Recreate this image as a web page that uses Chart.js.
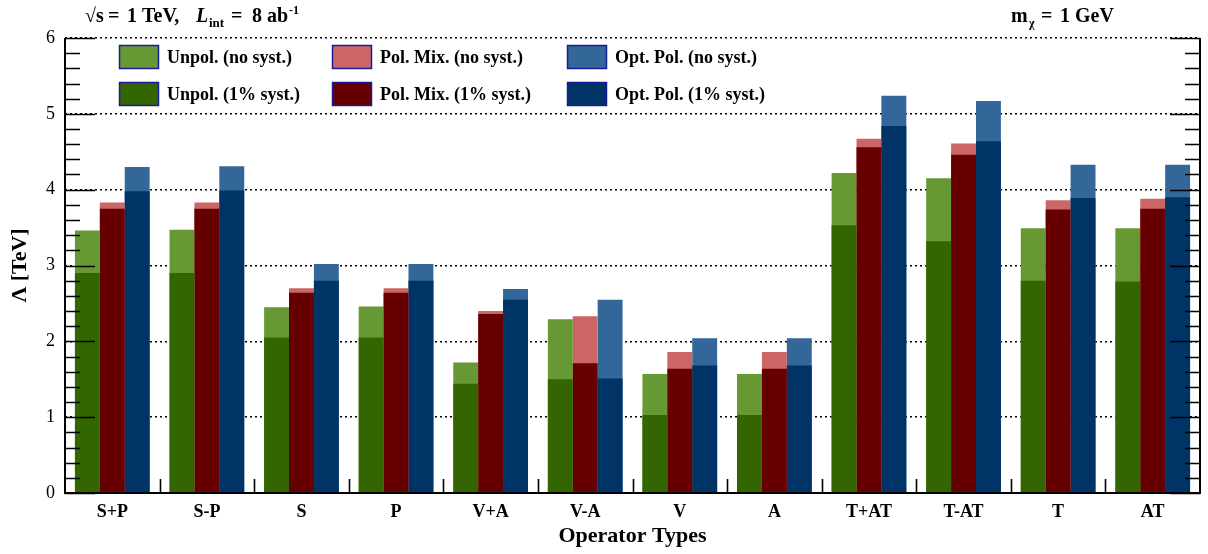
<!DOCTYPE html>
<html>
<head>
<meta charset="utf-8">
<script src="https://cdn.jsdelivr.net/npm/chart.js@4.4.1/dist/chart.umd.min.js"></script>
<style>
  body { margin: 0; background: #fff; }
  #wrap { width: 1208px; height: 554px; }
</style>
</head>
<body>
<div id="wrap"><canvas id="myChart" width="1208" height="554"></canvas></div>
<script>
// operator types on the x axis
var operatorTypes = ['S+P', 'S-P', 'S', 'P', 'V+A', 'V-A', 'V', 'A', 'T+AT', 'T-AT', 'T', 'AT'];

// Lambda [TeV]
var unpolNoSyst  = [3.46, 3.47, 2.45, 2.46, 1.72, 2.29, 1.57, 1.57, 4.22, 4.15, 3.49, 3.49];
var unpolSyst    = [2.90, 2.90, 2.05, 2.05, 1.44, 1.50, 1.03, 1.03, 3.53, 3.32, 2.80, 2.79];
var polMixNoSyst = [3.83, 3.83, 2.70, 2.70, 2.40, 2.33, 1.86, 1.86, 4.67, 4.61, 3.86, 3.88];
var polMixSyst   = [3.75, 3.75, 2.64, 2.64, 2.36, 1.71, 1.64, 1.64, 4.56, 4.46, 3.74, 3.75];
var optPolNoSyst = [4.30, 4.31, 3.02, 3.02, 2.69, 2.55, 2.04, 2.04, 5.24, 5.17, 4.33, 4.33];
var optPolSyst   = [3.98, 3.99, 2.80, 2.80, 2.55, 1.51, 1.68, 1.68, 4.84, 4.64, 3.89, 3.90];

var yTicks = [0, 1, 2, 3, 4, 5, 6];

var serif = "'Liberation Serif', 'Times New Roman', serif";

function makeSet(label, data, color, stack, order) {
    return {
        label: label,
        data: data,
        backgroundColor: color,
        borderWidth: 0,
        stack: stack,
        order: order
    };
}

var dataSource = {
    labels: operatorTypes,
    datasets: [
        makeSet('Unpol. (no syst.)', unpolNoSyst, '#669933', 'unpol', 1),
        makeSet('Pol. Mix. (no syst.)', polMixNoSyst, '#cc6666', 'mix', 1),
        makeSet('Opt. Pol. (no syst.)', optPolNoSyst, '#336699', 'opt', 1),
        makeSet('Unpol. (1% syst.)', unpolSyst, '#336600', 'unpol', 0),
        makeSet('Pol. Mix. (1% syst.)', polMixSyst, '#660000', 'mix', 0),
        makeSet('Opt. Pol. (1% syst.)', optPolSyst, '#003366', 'opt', 0)
    ]
};

// frame, inner ticks (ROOT style), legend and header texts
var rootStyle = {
    id: 'rootStyle',
    afterDatasetsDraw: function(chart) {
        var ctx = chart.ctx;
        var a = chart.chartArea;
        var y = chart.scales.y;
        var x = chart.scales.x;
        ctx.save();
        ctx.strokeStyle = '#000';
        ctx.lineWidth = 2;
        ctx.beginPath();
        ctx.moveTo(a.left, a.top);
        ctx.lineTo(a.left, a.bottom);
        ctx.lineTo(a.right, a.bottom);
        ctx.lineTo(a.right, a.top);
        ctx.stroke();

        ctx.lineWidth = 1.6;
        ctx.beginPath();
        for (var k = 0; k <= 30; k++) {
            var v = k * 0.2;
            var py = Math.round(y.getPixelForValue(v)) + 0.5;
            var len = (k % 5 === 0) ? 30 : 15;
            ctx.moveTo(a.left, py);
            ctx.lineTo(a.left + len, py);
            ctx.moveTo(a.right, py);
            ctx.lineTo(a.right - len, py);
        }
        for (var i = 0; i < operatorTypes.length - 1; i++) {
            var px = Math.round((x.getPixelForValue(i) + x.getPixelForValue(i + 1)) / 2) + 0.5;
            ctx.moveTo(px, a.bottom);
            ctx.lineTo(px, a.bottom - 14);
        }
        ctx.stroke();
        ctx.restore();
    },
    afterDraw: function(chart) {
        var ctx = chart.ctx;
        ctx.save();
        // legend
        var cols = [119, 332, 567];
        var rows = [45, 82];
        var sets = chart.data.datasets;
        ctx.font = 'bold 18px ' + serif;
        ctx.textBaseline = 'middle';
        ctx.textAlign = 'left';
        for (var n = 0; n < sets.length; n++) {
            var bx = cols[n % 3], by = rows[Math.floor(n / 3)];
            ctx.fillStyle = sets[n].backgroundColor;
            ctx.fillRect(bx, by, 40, 24);
            ctx.strokeStyle = '#1a1a9a';
            ctx.lineWidth = 1.5;
            ctx.strokeRect(bx + 0.5, by + 0.5, 39, 23);
            ctx.fillStyle = '#000';
            ctx.fillText(sets[n].label, bx + 48, by + 13);
        }

        // header texts
        ctx.textBaseline = 'alphabetic';
        var big = 'bold 20px ' + serif;
        function put(txt, x, font, dy) {
            ctx.font = font;
            ctx.fillText(txt, x, 22 + (dy || 0));
        }
        put('\u221As', 85, big);
        put('=', 108, big);
        put('1', 127, big);
        put('TeV,', 142, big);
        put('L', 196, 'italic bold 20px ' + serif);
        put('int', 209, 'bold 13px ' + serif, 5);
        put('=', 231, big);
        put('8', 252, big);
        put('ab', 267, big);
        put('-1', 289, 'bold 12px ' + serif, -8);

        put('m', 1011, big);
        put('\u03C7', 1029, 'bold 12px ' + serif, 5);
        put('=', 1041, big);
        put('1', 1060, big);
        put('GeV', 1075, big);
        ctx.restore();
    }
};

var myChart = new Chart(document.getElementById('myChart').getContext('2d'), {
    type: 'bar',
    data: dataSource,
    plugins: [rootStyle],
    options: {
        responsive: false,
        animation: false,
        devicePixelRatio: 1,
        layout: { padding: { top: 38, right: 8, left: 0, bottom: 0 } },
        datasets: {
            bar: { categoryPercentage: 0.79, barPercentage: 1.0 }
        },
        plugins: {
            legend: { display: false },
            tooltip: { enabled: false }
        },
        scales: {
            x: {
                grid: { display: false, drawTicks: false },
                border: { display: false },
                ticks: {
                    color: '#000',
                    padding: 9,
                    font: { family: serif, size: 18, weight: 'bold', lineHeight: 1.2 }
                },
                title: {
                    display: true,
                    text: 'Operator Types',
                    color: '#000',
                    padding: { top: 0, bottom: 4 },
                    font: { family: serif, size: 22, weight: 'bold', lineHeight: 1.2 }
                },
                afterFit: function(s) { s.height = 61; }
            },
            y: {
                stacked: false,
                min: 0,
                max: 6,
                afterBuildTicks: function(s) {
                    s.ticks = yTicks.map(function(v) { return { value: v }; });
                },
                grid: { color: '#000', lineWidth: 1.5, drawTicks: false },
                border: { display: false, dash: [2, 3] },
                ticks: {
                    color: '#000',
                    padding: 10,
                    font: { family: serif, size: 18, lineHeight: 1.2 }
                },
                title: {
                    display: true,
                    text: '\u039B [TeV]',
                    color: '#000',
                    padding: { top: 7, bottom: 0 },
                    font: { family: serif, size: 22, weight: 'bold', lineHeight: 1.2 }
                },
                afterFit: function(s) { s.width = 65; }
            }
        }
    }
});
</script>
</body>
</html>
